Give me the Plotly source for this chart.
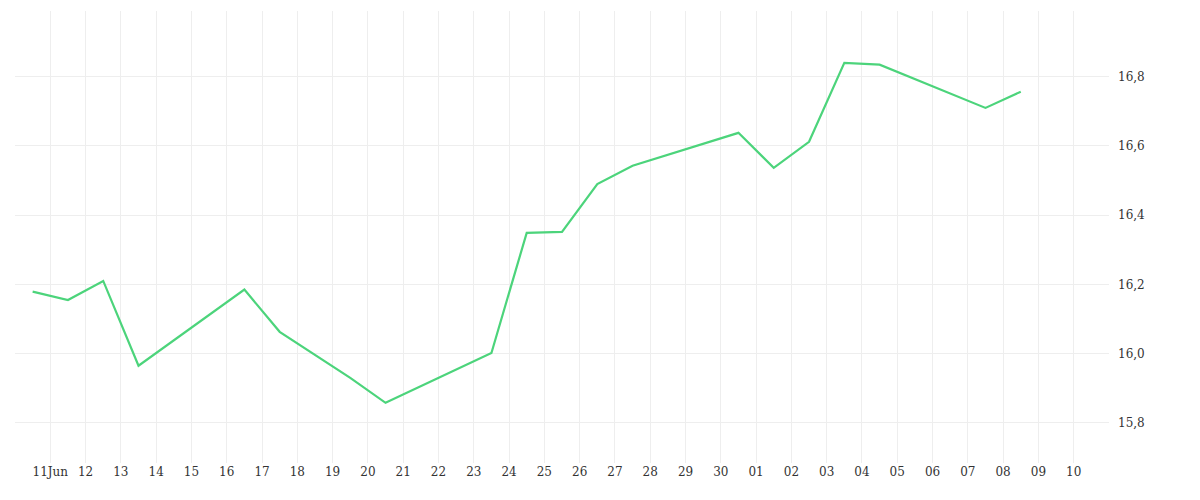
import plotly.graph_objects as go
import pandas as pd

dates = ["2025-06-10 12:00","2025-06-11 12:00","2025-06-12 12:00","2025-06-13 12:00",
         "2025-06-16 12:00","2025-06-17 12:00","2025-06-19 12:00","2025-06-20 12:00",
         "2025-06-23 12:00","2025-06-24 12:00","2025-06-25 12:00","2025-06-26 12:00",
         "2025-06-27 12:00","2025-06-30 12:00","2025-07-01 12:00","2025-07-02 12:00",
         "2025-07-03 12:00","2025-07-04 12:00","2025-07-07 12:00","2025-07-08 12:00"]
values = [16.179,16.155,16.21,15.965,16.185,16.063,15.93,15.858,16.002,16.349,16.352,
          16.49,16.543,16.638,16.537,16.612,16.84,16.835,16.71,16.757]

tick_dates = pd.date_range("2025-06-10","2025-07-10",freq="D")
tick_text = [""] + ["11Jun"] + [d.strftime("%d") for d in tick_dates[2:]]

fig = go.Figure(go.Scatter(x=pd.to_datetime(dates), y=values, mode="lines",
                           line=dict(color="#4cd47b", width=2.2), hoverinfo="x+y"))
fig.update_layout(
    width=1200, height=500, plot_bgcolor="white", paper_bgcolor="white",
    margin=dict(l=7, r=99, t=3, b=45), showlegend=False,
    font=dict(family="DejaVu Serif", size=12, color="#333"),
    xaxis=dict(range=["2025-06-10","2025-07-11"], tickvals=list(tick_dates), ticktext=tick_text,
               showgrid=True, gridcolor="#eeeeee", zeroline=False, showline=False, ticks=""),
    yaxis=dict(side="right", range=[15.684, 16.99], tickvals=[15.8,16.0,16.2,16.4,16.6,16.8],
               ticktext=["15,8","16,0","16,2","16,4","16,6","16,8"],
               showgrid=True, gridcolor="#eeeeee", zeroline=False, ticks="", ticklabelstandoff=8),
)
fig.write_html("out.html")
